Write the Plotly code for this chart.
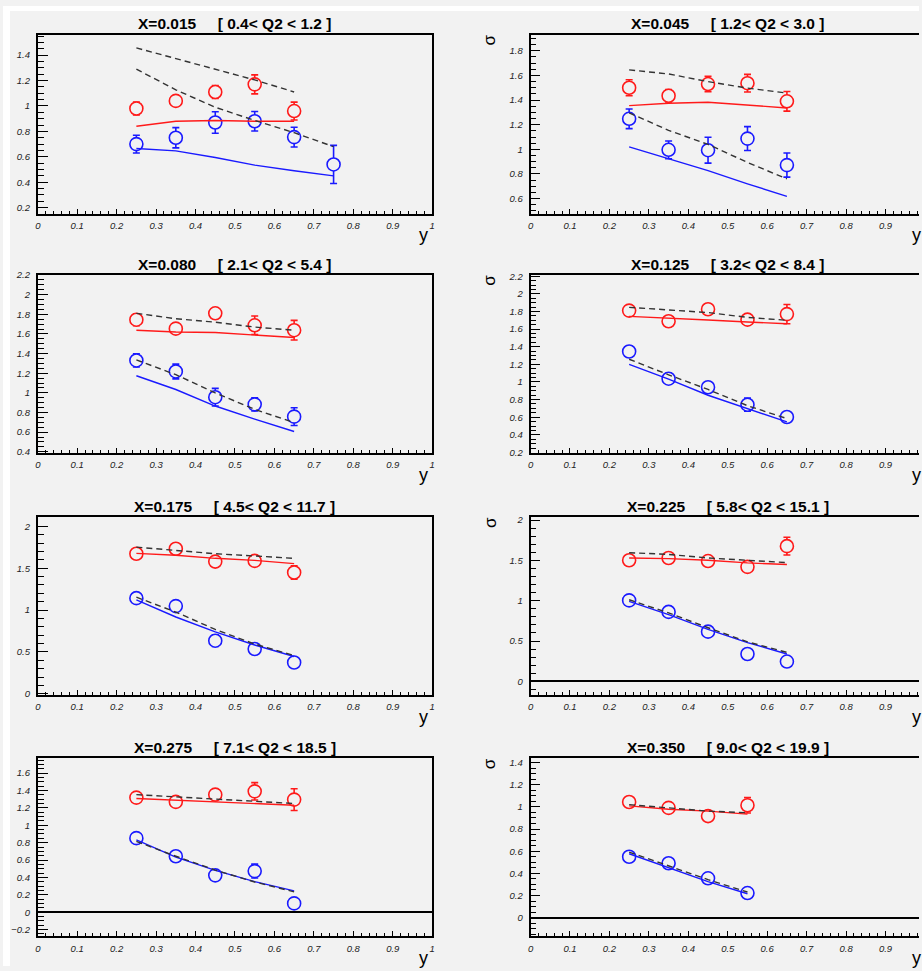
import plotly.graph_objects as go

W, H = 922, 971

# ---------------- data ----------------
y_bins = [0.25, 0.35, 0.45, 0.55, 0.65, 0.75]

x_labels = ["X=0.015", "X=0.045", "X=0.080", "X=0.125",
            "X=0.175", "X=0.225", "X=0.275", "X=0.350"]
q2_labels = ["[ 0.4< Q2 < 1.2 ]", "[ 1.2< Q2 < 3.0 ]", "[ 2.1< Q2 < 5.4 ]",
             "[ 3.2< Q2 < 8.4 ]", "[ 4.5< Q2 < 11.7 ]", "[ 5.8< Q2 < 15.1 ]",
             "[ 7.1< Q2 < 18.5 ]", "[ 9.0< Q2 < 19.9 ]"]

red_data = [
    [0.98, 1.04, 1.11, 1.17, 0.96],
    [1.50, 1.435, 1.53, 1.537, 1.39],
    [1.745, 1.654, 1.81, 1.688, 1.638],
    [1.81, 1.689, 1.825, 1.707, 1.77],
    [1.673, 1.732, 1.579, 1.587, 1.449],
    [1.502, 1.53, 1.492, 1.42, 1.677],
    [1.318, 1.269, 1.352, 1.39, 1.295],
    [1.044, 0.991, 0.917, 1.015],
]
red_err = [
    [0.05, 0.04, 0.05, 0.075, 0.07],
    [0.065, 0.05, 0.063, 0.072, 0.08],
    [0.06, 0.03, 0.04, 0.094, 0.10],
    [0.05, 0.03, 0.05, 0.05, 0.11],
    [0.04, 0.04, 0.06, 0.05, 0.08],
    [0.04, 0.04, 0.04, 0.06, 0.11],
    [0.04, 0.04, 0.05, 0.10, 0.125],
    [0.04, 0.03, 0.03, 0.07],
]
blue_data = [
    [0.70, 0.75, 0.87, 0.88, 0.755, 0.54],
    [1.248, 0.996, 0.993, 1.087, 0.872],
    [1.33, 1.218, 0.956, 0.883, 0.758],
    [1.346, 1.037, 0.94, 0.742, 0.602],
    [1.142, 1.047, 0.634, 0.535, 0.374],
    [1.004, 0.861, 0.616, 0.339, 0.245],
    [0.852, 0.644, 0.424, 0.473, 0.102],
    [0.55, 0.491, 0.355, 0.222],
]
blue_err = [
    [0.07, 0.08, 0.085, 0.077, 0.078, 0.15],
    [0.08, 0.072, 0.105, 0.097, 0.098],
    [0.067, 0.075, 0.09, 0.067, 0.09],
    [0.06, 0.06, 0.03, 0.075, 0.06],
    [0.06, 0.04, 0.07, 0.04, 0.05],
    [0.05, 0.05, 0.04, 0.04, 0.04],
    [0.06, 0.04, 0.04, 0.08, 0.04],
    [0.03, 0.03, 0.03, 0.03],
]
red_model = [
    [0.84, 0.88, 0.886, 0.88, 0.88],
    [1.355, 1.374, 1.382, 1.358, 1.336],
    [1.638, 1.62, 1.614, 1.587, 1.564],
    [1.744, 1.726, 1.703, 1.681, 1.66],
    [1.677, 1.654, 1.618, 1.594, 1.555],
    [1.53, 1.522, 1.502, 1.469, 1.449],
    [1.307, 1.288, 1.269, 1.25, 1.231],
    [1.009, 0.979, 0.962, 0.935],
]
blue_model = [
    [0.665, 0.647, 0.595, 0.535, 0.49, 0.45],
    [1.02, 0.926, 0.827, 0.72, 0.618],
    [1.174, 1.034, 0.866, 0.732, 0.607],
    [1.2, 1.033, 0.849, 0.694, 0.547],
    [1.122, 0.917, 0.74, 0.583, 0.445],
    [0.992, 0.828, 0.645, 0.481, 0.339],
    [0.833, 0.633, 0.481, 0.352, 0.246],
    [0.577, 0.453, 0.325, 0.216],
]
red_dashed = [
    [1.457, 1.374, 1.29, 1.205, 1.11],
    [1.645, 1.612, 1.55, 1.497, 1.457],
    [1.81, 1.755, 1.72, 1.67, 1.638],
    [1.847, 1.818, 1.788, 1.733, 1.70],
    [1.752, 1.713, 1.673, 1.646, 1.618],
    [1.596, 1.575, 1.53, 1.502, 1.473],
    [1.352, 1.326, 1.307, 1.28, 1.25],
    [1.02, 0.991, 0.962, 0.947],
]
blue_dashed = [
    [1.29, 1.127, 0.99, 0.886, 0.79, 0.68],
    [1.296, 1.154, 1.04, 0.894, 0.76],
    [1.336, 1.185, 1.0, 0.832, 0.698],
    [1.258, 1.081, 0.915, 0.731, 0.584],
    [1.154, 0.976, 0.768, 0.594, 0.457],
    [1.012, 0.849, 0.665, 0.49, 0.359],
    [0.814, 0.644, 0.485, 0.348, 0.235],
    [0.592, 0.467, 0.343, 0.231],
]

# axis settings per panel
y_ranges = [[0.153, 1.561], [0.478, 1.931], [0.389, 2.201], [0.195, 2.215],
            [-0.016, 2.11], [-0.171, 2.037], [-0.277, 1.769], [-0.169, 1.438]]
y_dticks = [0.2, 0.2, 0.2, 0.2, 0.5, 0.5, 0.2, 0.2]
y_minor = [0.05, 0.05, 0.05, 0.05, 0.1, 0.1, 0.05, 0.05]

# ---------------- layout geometry (pixels) ----------------
col_px = [(35, 432), (531, 928)]
row_px = [(29, 210), (272, 452), (517, 697), (761, 941)]

BG = "#f2f2f2"
RED = "#ff1a1a"
BLUE = "#1a1aff"
tickfont = dict(family="Liberation Sans", size=9.5, color="#222", style="italic")


def fx(px):
    return px / W


def fy(py):
    return 1 - py / H


fig = go.Figure()
annotations = []
layout_axes = {}

for i in range(8):
    r, c = divmod(i, 2)
    x0, x1 = col_px[c]
    y0, y1 = row_px[r]
    vis_x1 = min(x1, W)
    xr = [0, (vis_x1 - x0) / (x1 - x0)]
    n = i + 1
    xa = "x" if n == 1 else f"x{n}"
    ya = "y" if n == 1 else f"y{n}"

    layout_axes["xaxis" if n == 1 else f"xaxis{n}"] = dict(
        domain=[fx(x0), fx(vis_x1)], range=xr, anchor=ya,
        showgrid=False, zeroline=False,
        showline=True, linecolor="black", linewidth=1.7, mirror=True,
        ticks="inside", ticklen=5, tickwidth=1.3, tickcolor="black",
        dtick=0.1, tick0=0, tickfont=tickfont, ticklabelstandoff=2,
        minor=dict(dtick=0.02, ticks="inside", ticklen=3, tickwidth=1.1,
                   tickcolor="black", showgrid=False),
    )
    layout_axes["yaxis" if n == 1 else f"yaxis{n}"] = dict(
        domain=[fy(y1), fy(y0)], range=y_ranges[i], anchor=xa,
        showgrid=False, zeroline=y_ranges[i][0] < -0.05,
        zerolinecolor="black", zerolinewidth=1.6,
        showline=True, linecolor="black", linewidth=1.7, mirror=(c == 0),
        ticks="inside", ticklen=10, tickwidth=1.3, tickcolor="black",
        dtick=y_dticks[i], tick0=0, tickfont=tickfont, ticklabelstandoff=4,
        minor=dict(dtick=y_minor[i], ticks="inside", ticklen=6, tickwidth=1.1,
                   tickcolor="black", showgrid=False),
    )

    # data points (drawn first, lines drawn on top)
    for vals, errs, col in ((red_data[i], red_err[i], RED),
                            (blue_data[i], blue_err[i], BLUE)):
        fig.add_trace(go.Scatter(
            x=y_bins[:len(vals)], y=vals, mode="markers", xaxis=xa, yaxis=ya,
            marker=dict(symbol="circle", size=13, color=BG,
                        line=dict(color=col, width=1.6)),
            error_y=dict(type="data", array=errs, visible=True, color=col,
                         thickness=1.6, width=3.5),
            showlegend=False, hoverinfo="skip"))

    for vals, col, dash in ((red_model[i], RED, "solid"),
                            (blue_model[i], BLUE, "solid"),
                            (red_dashed[i], "#333", "6px,4px"),
                            (blue_dashed[i], "#333", "6px,4px")):
        fig.add_trace(go.Scatter(
            x=y_bins[:len(vals)], y=vals, mode="lines", xaxis=xa, yaxis=ya,
            line=dict(color=col, width=1.4, dash=dash),
            showlegend=False, hoverinfo="skip"))

    # title
    annotations.append(dict(
        text=x_labels[i] + "\u00a0\u00a0\u00a0\u00a0\u00a0" + q2_labels[i],
        x=fx((x0 + x1) / 2), y=fy(y0 - 11), xref="paper", yref="paper",
        xanchor="center", yanchor="middle", showarrow=False,
        font=dict(family="Liberation Sans", size=15.5, color="black", weight="bold")))
    # x axis title "y"
    annotations.append(dict(
        text="y", x=fx(x1 - 9), y=fy(y1 + 22), xref="paper", yref="paper",
        xanchor="center", yanchor="middle", showarrow=False,
        font=dict(family="Liberation Sans", size=18, color="black")))
    # y axis title sigma (visible only in right column)
    if c == 1:
        annotations.append(dict(
            text="\u03c3", x=fx(x0 - 41), y=fy(y0 + 5), xref="paper", yref="paper",
            xanchor="center", yanchor="middle", showarrow=False, textangle=-90,
            font=dict(family="Liberation Sans", size=17, color="black")))

shapes = [
    dict(type="rect", xref="paper", yref="paper", x0=0, x1=1, y0=fy(5), y1=1,
         fillcolor="white", line=dict(width=0), layer="below"),
    dict(type="rect", xref="paper", yref="paper", x0=0, x1=fx(7), y0=0, y1=1,
         fillcolor="white", line=dict(width=0), layer="below"),
]

fig.update_layout(
    width=W, height=H, margin=dict(l=0, r=0, t=0, b=0),
    paper_bgcolor=BG, plot_bgcolor=BG,
    annotations=annotations, shapes=shapes, **layout_axes)

fig.write_html("out.html")
